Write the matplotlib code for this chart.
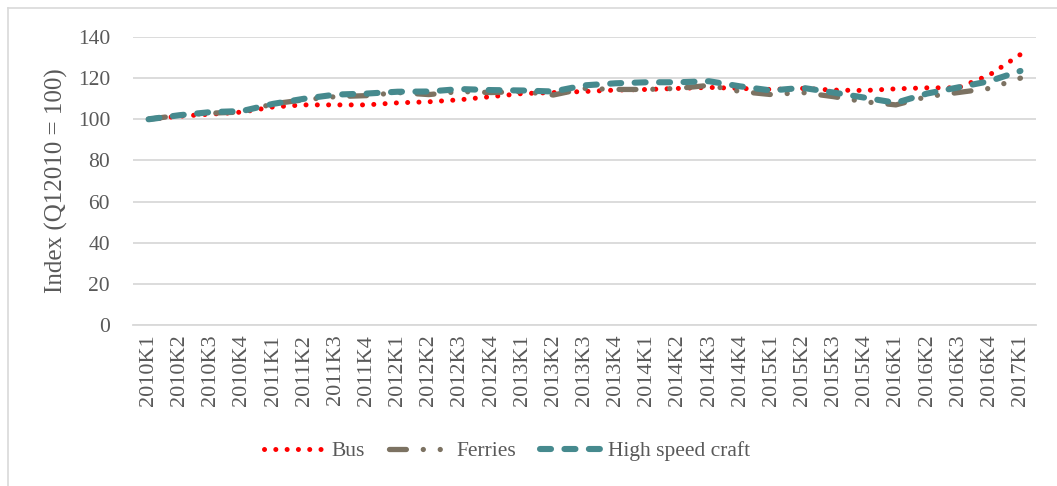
import matplotlib
matplotlib.use("Agg")
import matplotlib.pyplot as plt
from matplotlib.lines import Line2D

categories = [f"{y}K{q}" for y in range(2010, 2017) for q in range(1, 5)] + ["2017K1"]

bus = [100, 101.5, 102.5, 103.5, 106, 107, 107, 107, 108, 108.5, 109.5, 111,
       112.5, 113, 113.5, 114.2, 114.5, 115, 115.5, 115, 114.5, 115, 114.2, 114,
       114.8, 115.3, 115.3, 121.5, 131.5]
ferries = [100, 102, 103, 103.5, 107.5, 109.5, 111, 111.5, 113, 112, 113.5, 113,
           113.5, 111.8, 115, 114.5, 114.5, 115, 116.5, 113.5, 112, 113, 111, 108.5,
           107, 111, 113, 115, 120]
hsc = [100, 102, 103.5, 104, 107.5, 110, 112, 112.5, 113.4, 113.5, 114.7, 114.2,
       114, 113.5, 116.5, 117.5, 118, 118, 118.5, 116, 114, 115.3, 113, 110.5,
       108, 112.5, 115.5, 118.5, 123.5]
series_names = ["Bus", "Ferries", "High speed craft"]
yticks = [0, 20, 40, 60, 80, 100, 120, 140]

plt.rcParams['font.family'] = ['Liberation Serif', 'DejaVu Serif']
txt = '#595959'
grid = '#d9d9d9'

W, H = 1057, 486
fig = plt.figure(figsize=(W / 100, H / 100), dpi=100)
ax = fig.add_axes([133 / W, 1 - 325 / H, (1036 - 133) / W, (325 - 37) / H])

x = list(range(len(categories)))
ax.plot(x, bus, color='#FF0000', lw=3.6, linestyle=(0, (0.01, 2.25)),
        dash_capstyle='round', label=series_names[0], zorder=3)
ax.plot(x, ferries, color='#7C7262', lw=3.8, linestyle=(0, (3.2, 3.2, 0.01, 3.2, 0.01, 3.2)),
        dash_capstyle='round', label=series_names[1], zorder=4)
ax.plot(x, hsc, color='#468A8E', lw=4.4, linestyle=(0, (1.8, 2.2)),
        dash_capstyle='round', label=series_names[2], zorder=5)

ax.set_xlim(-0.5, len(categories) - 0.5)
ax.set_ylim(0, 140)
ax.set_yticks(yticks)
ax.set_xticks(x)
ax.set_xticklabels(categories, rotation=90)
ax.tick_params(axis='both', length=0, colors=txt)
ax.tick_params(axis='y', pad=16.5, labelsize=15.5)
ax.tick_params(axis='x', pad=7, labelsize=16)
ax.grid(axis='y', color=grid, lw=1.3)
ax.set_axisbelow(True)
for s in ['top', 'right', 'left']:
    ax.spines[s].set_visible(False)
ax.spines['bottom'].set_color(grid)
ax.spines['bottom'].set_linewidth(1.3)
ax.set_ylabel("Index (Q12010 = 100)", color=txt, fontsize=18)
ax.yaxis.set_label_coords((68 - 133) / 903, 0.5)

leg = ax.legend(loc='center', bbox_to_anchor=(507 / W, 1 - 451 / H),
                bbox_transform=fig.transFigure, ncol=3, frameon=False,
                fontsize=15.5, handlelength=2.9, columnspacing=1.1, handletextpad=0.25)
for t in leg.get_texts():
    t.set_color(txt)

# outer chart border (left and top visible)
fig.add_artist(Line2D([7.5 / W, 7.5 / W], [0, 1 - 8 / H], transform=fig.transFigure,
                      color=grid, lw=1.2))
fig.add_artist(Line2D([7.5 / W, 1], [1 - 8 / H, 1 - 8 / H], transform=fig.transFigure,
                      color=grid, lw=1.2))

fig.savefig("out.png", dpi=100)
